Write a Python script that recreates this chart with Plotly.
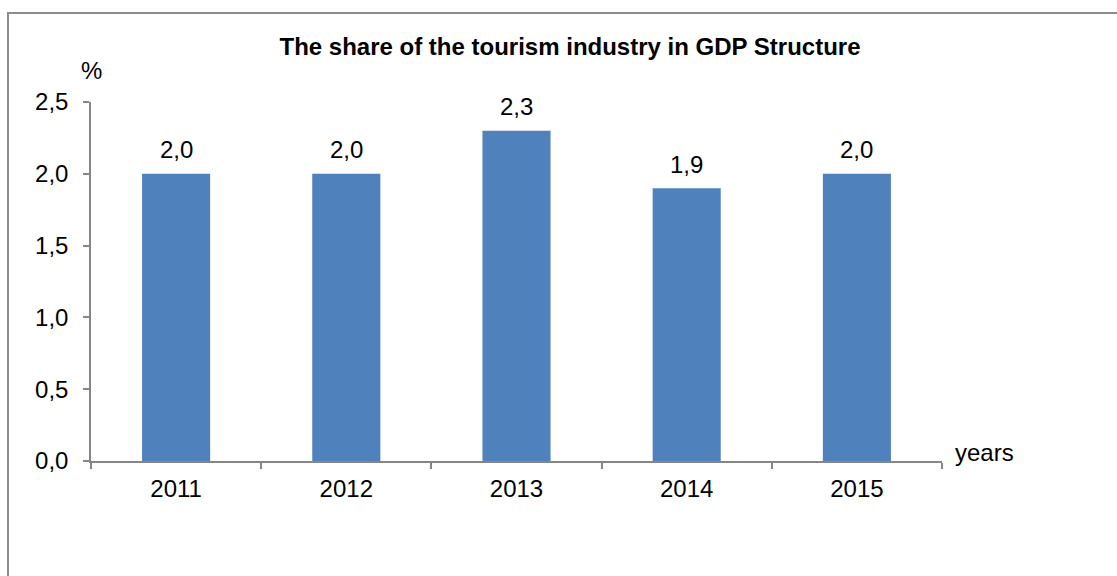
import plotly.graph_objects as go

# Tourism industry share of GDP, by year
years = ["2011", "2012", "2013", "2014", "2015"]
share = [2.0, 2.0, 2.3, 1.9, 2.0]
y_ticks = [0.0, 0.5, 1.0, 1.5, 2.0, 2.5]

axis_color = "#868686"
font_family = "Liberation Sans, Arial, sans-serif"
label_size = 24

fig = go.Figure(
    go.Bar(
        x=years,
        y=share,
        marker=dict(color="#4F81BD", line=dict(width=0)),
        hoverinfo="x+y",
    )
)

# Value labels sitting above each bar (category index on the x axis)
value_labels = [
    dict(x=i, y=v, xref="x", yref="y", text=f"{v:.1f}".replace(".", ","),
         showarrow=False, yanchor="middle", yshift=24,
         font=dict(size=label_size, color="#000000"))
    for i, v in enumerate(share)
]

fig.update_layout(
    width=1117,
    height=576,
    margin=dict(l=91, r=175, t=102, b=115),
    paper_bgcolor="white",
    plot_bgcolor="white",
    separators=", ",
    bargap=0.6,
    showlegend=False,
    font=dict(family=font_family, size=label_size, color="#000000"),
    title=dict(
        text="<b>The share of the tourism industry in GDP Structure</b>",
        x=570 / 1117,
        xanchor="center",
        y=1 - 47 / 576,
        yanchor="middle",
        font=dict(size=24, family=font_family, color="#000000"),
    ),
    xaxis=dict(
        type="category",
        showline=True,
        linecolor=axis_color,
        linewidth=2,
        ticks="outside",
        ticklen=6,
        tickcolor=axis_color,
        tickwidth=1.5,
        tickson="boundaries",
        showgrid=False,
        tickangle=0,
        tickfont=dict(size=label_size),
        ticklabelstandoff=5,
    ),
    yaxis=dict(
        range=[0, 2.5],
        tickvals=y_ticks,
        tickformat=".1f",
        showline=True,
        linecolor=axis_color,
        linewidth=1.5,
        ticks="outside",
        ticklen=6,
        tickcolor=axis_color,
        tickwidth=1.5,
        showgrid=False,
        zeroline=False,
        tickfont=dict(size=label_size),
        ticklabelstandoff=10,
    ),
    annotations=value_labels + [
        dict(text="%", xref="paper", yref="paper", x=0, y=1 + 31 / 359,
             xanchor="center", yanchor="middle", showarrow=False,
             font=dict(size=label_size)),
        dict(text="years", xref="paper", yref="paper", x=1 + 43 / 851, y=9 / 359,
             xanchor="center", yanchor="middle", showarrow=False,
             font=dict(size=label_size)),
    ],
    shapes=[
        dict(type="rect", xref="paper", yref="paper",
             x0=-83 / 851, x1=1.5, y0=-1.0, y1=1 + 89 / 359,
             line=dict(color="#8C8C8C", width=2), fillcolor="rgba(0,0,0,0)",
             layer="below"),
    ],
)

fig.write_html("out.html")
